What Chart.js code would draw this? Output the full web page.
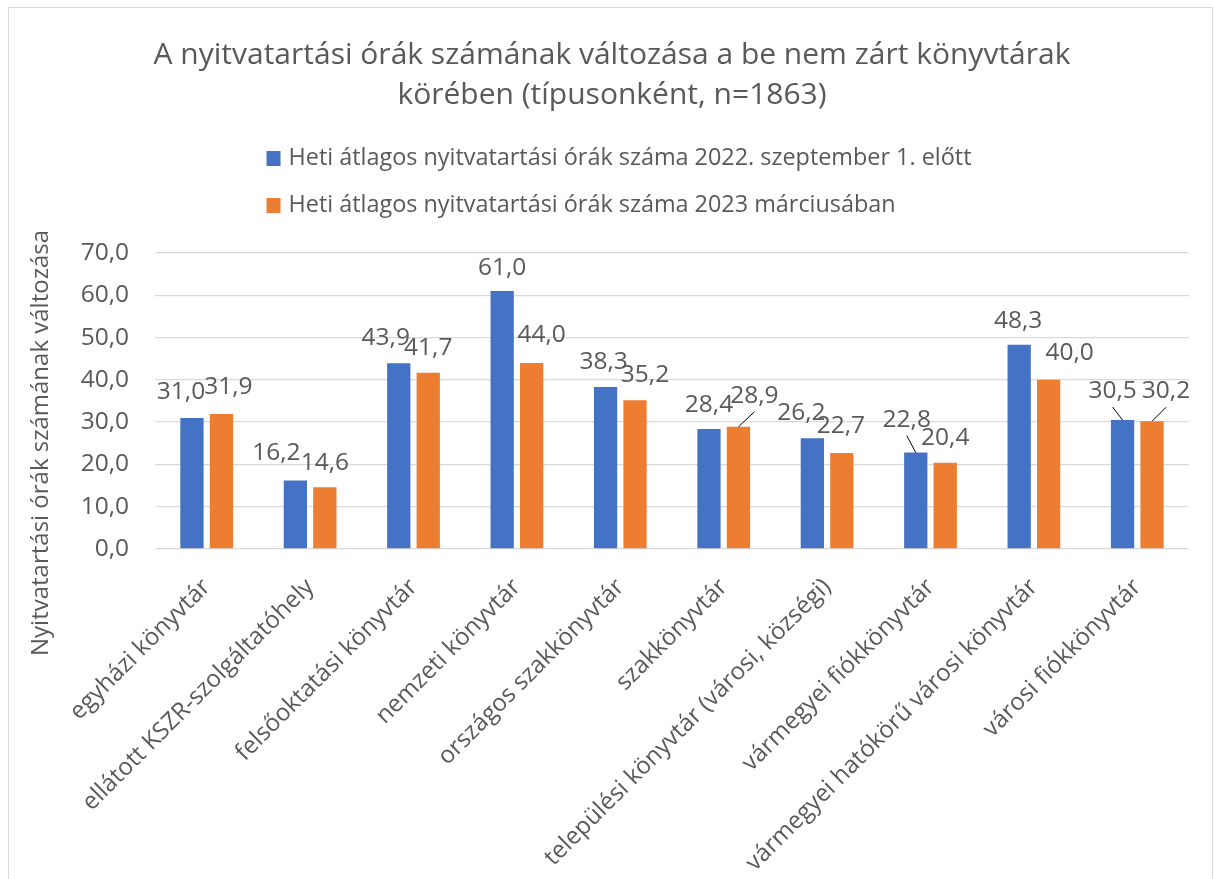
<!DOCTYPE html>
<html lang="hu">
<head>
<meta charset="utf-8">
<script src="https://cdn.jsdelivr.net/npm/chart.js@4.4.1/dist/chart.umd.min.js"></script>
<style>
  html, body { margin:0; padding:0; background:#fff; overflow:hidden; }
  #wrap { position:relative; width:1214px; height:879px; }
  #frame { position:absolute; left:8px; top:7px; width:1203px; height:880px; border:1px solid #d9d9d9; }
  canvas { position:absolute; left:0; top:0; }
</style>
</head>
<body>
<div id="wrap">
  <div id="frame"></div>
  <canvas id="hoursChart" width="1214" height="879"></canvas>
</div>
<script>
// könyvtártípusok és heti nyitvatartási órák
const categories = [
  'egyházi könyvtár',
  'ellátott KSZR-szolgáltatóhely',
  'felsőoktatási könyvtár',
  'nemzeti könyvtár',
  'országos szakkönyvtár',
  'szakkönyvtár',
  'települési könyvtár (városi, községi)',
  'vármegyei fiókkönyvtár',
  'vármegyei hatókörű városi könyvtár',
  'városi fiókkönyvtár'
];
const seriesNames = [
  'Heti átlagos nyitvatartási órák száma 2022. szeptember 1. előtt',
  'Heti átlagos nyitvatartási órák száma 2023 márciusában'
];
const before2022 = [31.0, 16.2, 43.9, 61.0, 38.3, 28.4, 26.2, 22.8, 48.3, 30.5];
const march2023  = [31.9, 14.6, 41.7, 44.0, 35.2, 28.9, 22.7, 20.4, 40.0, 30.2];
const yTicks = [0, 10, 20, 30, 40, 50, 60, 70];

const chartTitle = ['A nyitvatartási órák számának változása a be nem zárt könyvtárak',
                    'körében (típusonként, n=1863)'];
const yTitle = 'Nyitvatartási órák számának változása';

// adatcímkék eltolása az oszlop tetejéhez képest (Excel kézi igazítás)
const labelNudge = [
  [[-11,-26],[-19,-27],[-13,-25],[0,-23],[-2,-25],[0,-24],[-11,-25],[-9,-33],[-1,-24],[-10,-29]],
  [[7,-27],[0,-24],[0,-25],[10,-28],[10,-25],[16,-31],[-1,-27],[0,-25],[21,-27],[14,-30]]
];
const leaderLines = [[7, 9], [5, 9]];

const grey = '#595959';
const font = '"Open Sans", "Noto Sans", sans-serif';
const fmt = v => v.toFixed(1).replace('.', ',');

const decorations = {
  id: 'decorations',
  afterDatasetsDraw(chart) {
    const ctx = chart.ctx;
    ctx.save();
    ctx.font = '24.5px ' + font;
    ctx.textAlign = 'center';
    ctx.textBaseline = 'middle';
    chart.data.datasets.forEach((ds, di) => {
      chart.getDatasetMeta(di).data.forEach((bar, i) => {
        const [dx, dy] = labelNudge[di][i];
        const lx = bar.x + dx, ly = bar.y + dy;
        if (leaderLines[di].includes(i)) {
          ctx.strokeStyle = '#000';
          ctx.lineWidth = 1;
          ctx.beginPath();
          ctx.moveTo(lx, ly + 16);
          ctx.lineTo(bar.x, bar.y);
          ctx.stroke();
        }
        ctx.fillStyle = grey;
        ctx.fillText(fmt(ds.data[i]), lx, ly);
      });
    });
    ctx.restore();
  },
  afterDraw(chart) {
    const ctx = chart.ctx;
    ctx.save();
    // jelmagyarázat, két sorban balra igazítva
    ctx.font = '23.4px ' + font;
    ctx.textBaseline = 'middle';
    const widths = chart.data.datasets.map(ds => ctx.measureText(ds.label).width);
    const rowW = 14 + 8 + Math.max(...widths);
    const x0 = 619 - rowW / 2;
    chart.data.datasets.forEach((ds, di) => {
      const y = 158 + di * 47;
      ctx.fillStyle = ds.backgroundColor;
      ctx.fillRect(x0, y - 7, 14, 15);
      ctx.fillStyle = grey;
      ctx.fillText(ds.label, x0 + 22, y);
    });
    // függőleges tengelycím
    ctx.translate(41, 443);
    ctx.rotate(-Math.PI / 2);
    ctx.font = '24px ' + font;
    ctx.textAlign = 'center';
    ctx.fillText(yTitle, 0, 0);
    ctx.restore();
  }
};

const ctx = document.getElementById('hoursChart').getContext('2d');
new Chart(ctx, {
  type: 'bar',
  data: {
    labels: categories,
    datasets: [
      { label: seriesNames[0], data: before2022, backgroundColor: '#4472C4' },
      { label: seriesNames[1], data: march2023, backgroundColor: '#ED7D31' }
    ]
  },
  options: {
    responsive: false,
    animation: false,
    layout: { padding: { left: 35, right: 25, top: 10, bottom: 0 } },
    datasets: { bar: { categoryPercentage: 0.57, barPercentage: 0.79 } },
    plugins: {
      legend: { display: false },
      tooltip: { enabled: false },
      title: {
        display: true,
        text: chartTitle,
        color: grey,
        font: { family: font, size: 30, weight: 'normal', lineHeight: 1.333 },
        padding: { top: 25, bottom: 138 }
      }
    },
    scales: {
      x: {
        grid: { display: false },
        border: { display: false },
        ticks: {
          color: grey,
          font: { family: font, size: 24 },
          minRotation: 45,
          maxRotation: 45,
          padding: 16,
          autoSkip: false
        },
        afterFit: s => { s.height = 330; }
      },
      y: {
        min: yTicks[0],
        max: yTicks[yTicks.length - 1],
        ticks: {
          stepSize: yTicks[1] - yTicks[0],
          color: grey,
          font: { family: font, size: 24.5 },
          padding: 26,
          callback: v => fmt(v)
        },
        grid: { color: '#d9d9d9', lineWidth: 1.3, drawTicks: false },
        border: { display: false },
        afterFit: s => { s.width = 120; }
      }
    }
  },
  plugins: [decorations]
});
</script>
</body>
</html>
